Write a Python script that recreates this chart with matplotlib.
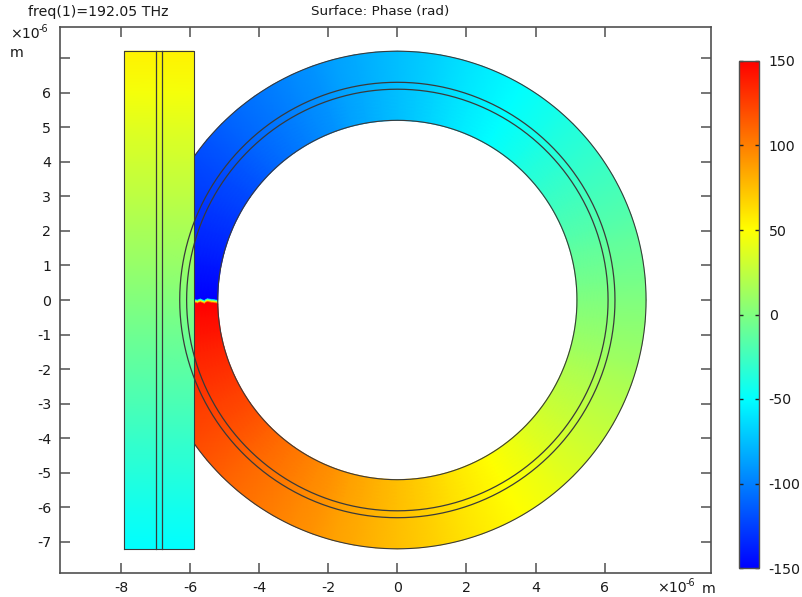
import numpy as np
import matplotlib
matplotlib.use("Agg")
import matplotlib.pyplot as plt
from matplotlib.colors import LinearSegmentedColormap, Normalize
from matplotlib.cm import ScalarMappable

W, H = 802, 597
plt.rcParams['font.family'] = ['DejaVu Sans']
plt.rcParams['axes.unicode_minus'] = False

# phase (rad) around the ring, every 5 degrees counter-clockwise starting just below the -x axis
ring_angles_deg = list(range(180, 545, 5))
ring_phase = [150, 146, 142, 137, 133, 129, 125, 121, 117, 112, 108, 104,
              100, 96, 92, 87, 83, 79, 75, 71, 67, 62, 58, 54,
              50, 46, 42, 37, 33, 29, 25, 21, 17, 12, 8, 4,
              0, -4, -8, -12, -17, -21, -25, -29, -33, -37, -42, -46,
              -50, -54, -58, -62, -67, -71, -75, -79, -83, -87, -92, -96,
              -100, -104, -108, -112, -117, -121, -125, -129, -133, -137, -142, -146,
              -150]
# radii of the ring mesh and the wobble of the phase jump line (y, 1e-6 m) at each radius
ring_radii = [5.2, 5.3, 5.4, 5.5, 5.6, 5.7, 5.8, 5.9, 6.1, 6.3, 7.2]
seam_y = [-0.05, -0.03, -0.02, 0.0, -0.05, -0.01, -0.04, -0.02, -0.02, -0.02, -0.02]
seam_phase = [-150, -100, -50, 0, 50, 100, 150]

# straight waveguide
guide_x = [-7.9, -5.9]
guide_y = [-7.2, -6, -5, -4, -3, -2, -1, 0, 1, 2, 3, 4, 5, 6, 7.2]
guide_phase = [-50, -43, -36, -29, -21, -14, -7, 1, 9, 16, 24, 31, 38, 46, 55]
guide_core_x = [-7.0, -6.8]
ring_core_r = [6.1, 6.3]

x_ticks = [-8, -6, -4, -2, 0, 2, 4, 6]
y_ticks = [-7, -6, -5, -4, -3, -2, -1, 0, 1, 2, 3, 4, 5, 6, 7]
y_labels = ['-7', '-6', '-5', '-4', '-3', '-2', '-1', '0', '1', '2', '3', '4', '5', '6', '']
cbar_ticks = [-150, -100, -50, 0, 50, 100, 150]

cmap = LinearSegmentedColormap.from_list('rb', ['#0000ff', '#00ffff', '#ffff00', '#ff0000'], N=1024)
norm = Normalize(-150, 150)
EDGE = '#3a3a3a'
SPINE = '#505050'
FS = 10.2
TXT = '#1a1a1a'

fig = plt.figure(figsize=(W / 100, H / 100), dpi=100)


def box(l, t, r, b):
    return [l / W, 1 - b / H, (r - l) / W, (b - t) / H]


def ptext(x, y, s, **kw):
    kw.setdefault('fontsize', FS)
    kw.setdefault('color', TXT)
    kw.setdefault('va', 'center')
    fig.text(x / W, 1 - y / H, s, **kw)


ax = fig.add_axes(box(59.5, 27, 711, 573))
ax.set_xlim(-9.78, 9.08)
ax.set_ylim(-7.9, 7.9)

# ring field, with the phase jump closed by a thin strip at the seam
r = np.array(ring_radii)
sy = np.array(seam_y)
th = np.radians(ring_angles_deg)
gap = 0.07
offs = np.linspace(gap, -gap, len(seam_phase))
X_seam = -np.sqrt(r ** 2 - sy ** 2)[:, None] * np.ones((1, len(offs)))
Y_seam = sy[:, None] + offs[None, :]
X_ring = r[:, None] * np.cos(th)[None, :]
Y_ring = r[:, None] * np.sin(th)[None, :]
Y_ring[:, 0] = Y_seam[:, -1]
Y_ring[:, -1] = Y_seam[:, 0]
X = np.hstack([X_seam[:, :-1], X_ring])
Y = np.hstack([Y_seam[:, :-1], Y_ring])
vals = np.array(seam_phase[:-1] + ring_phase, dtype=float)
C = np.tile(vals, (len(r), 1))
ax.pcolormesh(X, Y, C, cmap=cmap, norm=norm, shading='gouraud', zorder=1, rasterized=True)

t = np.radians(np.arange(0, 360.5, 0.5))
for rad in (ring_radii[0], ring_radii[-1]):
    ax.plot(rad * np.cos(t), rad * np.sin(t), color=EDGE, lw=0.8, zorder=2, solid_capstyle='butt')

# waveguide on top of the ring
gx, gy = np.meshgrid(guide_x, guide_y)
gc = np.tile(np.array(guide_phase, dtype=float)[:, None], (1, 2))
ax.pcolormesh(gx, gy, gc, cmap=cmap, norm=norm, shading='gouraud', zorder=3, rasterized=True)
ax.plot([guide_x[0], guide_x[1], guide_x[1], guide_x[0], guide_x[0]],
        [guide_y[0], guide_y[0], guide_y[-1], guide_y[-1], guide_y[0]], color=EDGE, lw=0.8, zorder=4)
for xc in guide_core_x:
    ax.plot([xc, xc], [guide_y[0], guide_y[-1]], color=EDGE, lw=0.9, zorder=4)
for rad in ring_core_r:
    ax.plot(rad * np.cos(t), rad * np.sin(t), color=EDGE, lw=0.9, zorder=4, solid_capstyle='butt')

ax.set_xticks(x_ticks)
ax.set_xticklabels([str(v) for v in x_ticks])
ax.set_yticks(y_ticks)
ax.set_yticklabels(y_labels)
ax.tick_params(direction='in', top=True, right=True, length=7, width=1.1, color=SPINE,
               labelsize=FS, labelcolor=TXT, pad=6)
for s in ax.spines.values():
    s.set_color(SPINE)
    s.set_linewidth(1.2)

# colour bar
cax = fig.add_axes(box(739, 61, 759, 568))
cb = fig.colorbar(ScalarMappable(norm=norm, cmap=cmap), cax=cax)
cb.set_ticks(cbar_ticks)
cb.set_ticklabels([str(v) for v in cbar_ticks])
cax.tick_params(direction='in', left=True, right=True, length=3, width=1.0, color='#222222',
                labelsize=FS, labelcolor=TXT, pad=7)
cb.outline.set_edgecolor(SPINE)
cb.outline.set_linewidth(1.0)

# texts
ptext(28, 12, 'freq(1)=192.05 THz')
ptext(380, 12, 'Surface: Phase (rad)', ha='center', fontsize=9.7)
ptext(10, 34, '×10')
ptext(38.5, 29, '-6', fontsize=7)
ptext(10, 53, 'm')
ptext(657, 588, '×10')
ptext(685.5, 582.5, '-6', fontsize=7)
ptext(702, 589, 'm')

fig.savefig('out.png', dpi=100)
